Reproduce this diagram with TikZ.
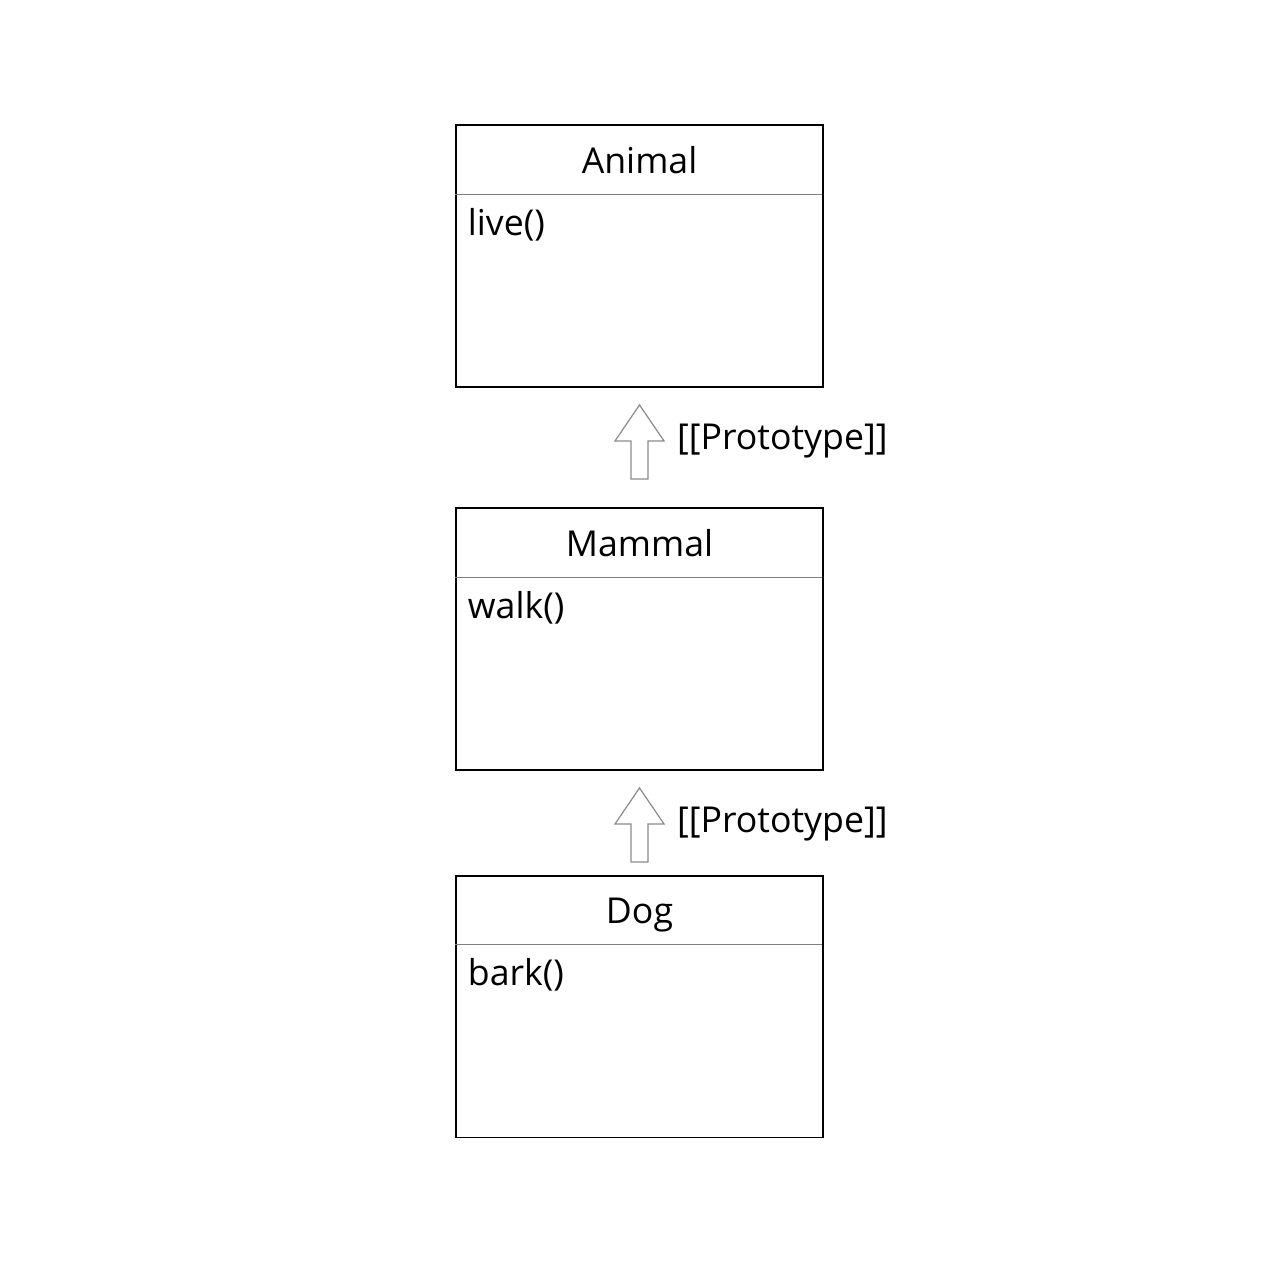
\documentclass[tikz,border=0pt]{standalone}
\usepackage{fontspec}
\setmainfont{Open Sans}
\usetikzlibrary{positioning}
\tikzset{
    classbox/.style={draw, line width=1.1pt, minimum width=7.34cm, minimum height=5.24cm, inner sep=0pt},
    classname/.style={anchor=base, inner sep=0pt, font=\fontsize{20.3}{24}\selectfont},
    method/.style={anchor=base west, inner sep=0pt, font=\fontsize{20.3}{24}\selectfont},
    sepline/.style={draw=gray, line width=0.6pt},
    protoarrow/.style={draw=gray!90, line width=0.7pt, line join=miter},
    protolabel/.style={anchor=base west, inner sep=0pt, xshift=0.25cm, yshift=-0.18cm, font=\fontsize{20.3}{24}\selectfont}
}
\begin{document}
\begin{tikzpicture}[x=0.02cm, y=-0.02cm]
    \useasboundingbox (0,0) rectangle (1280,1280);

    % Draw the class boxes
    \foreach \name/\title/\meth/\y in {animal/Animal/live()/256, mammal/Mammal/walk()/639, dog/Dog/bark()/1006.5} {
        \node[classbox] (\name) at (639.5,\y) {};
        \draw[sepline] (\name.north west) ++(0,70) -- ++(367,0);
        \node[classname] (\name-title) at ([yshift=-0.98cm]\name.north) {\title};
        \node[method] (\name-method) at ([xshift=0.25cm, yshift=-2.22cm]\name.north west) {\meth};
    }

    % Draw the prototype arrows
    \foreach \upper/\i in {animal/1, mammal/2}
        \draw[protoarrow] (\upper.south) ++(0,17) -- ++(24.5,36) node[protolabel] (proto\i) {[[Prototype]]}
            -- ++(-16,0) -- ++(0,38) -- ++(-17,0) -- ++(0,-38) -- ++(-16,0) -- cycle;
\end{tikzpicture}
\end{document}
